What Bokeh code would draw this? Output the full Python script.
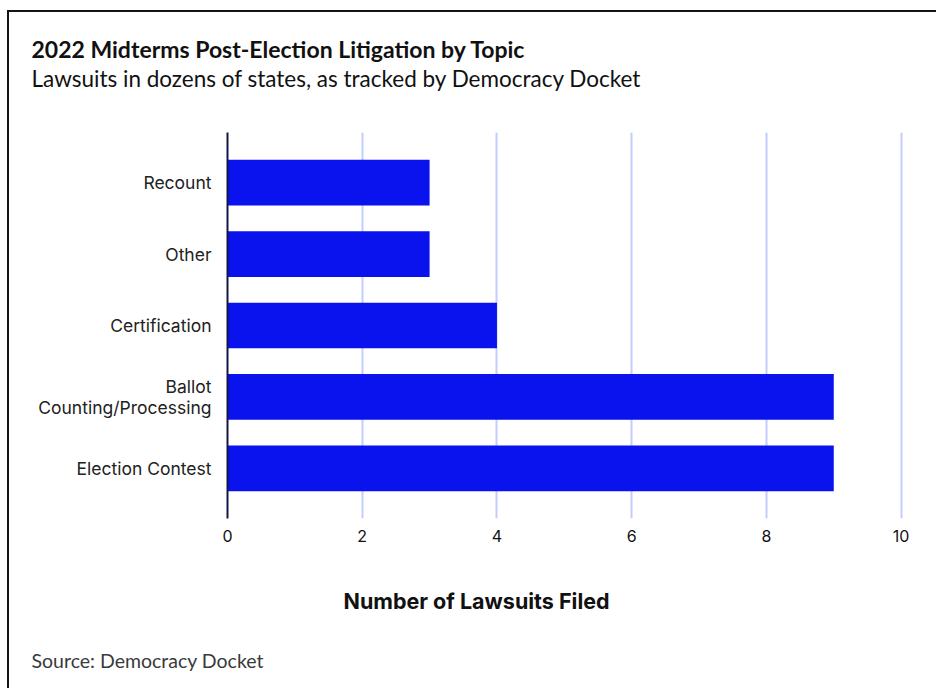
from bokeh.plotting import figure
from bokeh.models import FactorRange, Range1d, Title, FixedTicker
from bokeh.embed import file_html
from bokeh.resources import INLINE

# ---- data ----
categories = ["Election Contest", "Ballot\nCounting/Processing", "Certification", "Other", "Recount"]
lawsuits = [9, 9, 4, 3, 3]
x_ticks = [0, 2, 4, 6, 8, 10]

title_text = "2022 Midterms Post-Election Litigation by Topic"
subtitle_text = "Lawsuits in dozens of states, as tracked by Democracy Docket"
xlabel_text = "Number of Lawsuits Filed"
source_text = "Source: Democracy Docket"

W, H = 936, 688
FRAME_L, FRAME_T, FRAME_R, FRAME_B = 227, 132, 904, 518   # page coords

p = figure(
    width=W, height=H,
    y_range=FactorRange(factors=categories, range_padding=0.2, range_padding_units="absolute"),
    x_range=Range1d(0, 10.05),
    output_backend="svg", toolbar_location=None,
    min_border_left=FRAME_L, min_border_right=W - FRAME_R,
    min_border_top=FRAME_T, min_border_bottom=H - FRAME_B,
)
# page frame line (left and top edges), drawn behind a transparent border fill
p.styles = {"box-shadow": "inset 7px 10px 0px 0px #ffffff, inset 9px 12px 0px 0px #141414"}
p.outline_line_color = None
p.background_fill_color = "white"
p.border_fill_alpha = 0

p.hbar(y=categories, right=lawsuits, left=0, height=0.64,
       fill_color="#0a12ee", line_color=None)

# grid
p.ygrid.grid_line_color = None
p.xgrid.ticker = FixedTicker(ticks=x_ticks)
p.xgrid.grid_line_color = "#c3cdff"
p.xgrid.grid_line_width = 2

# x axis
p.xaxis.ticker = FixedTicker(ticks=x_ticks)
p.xaxis.axis_line_color = None
p.xaxis.major_tick_line_color = None
p.xaxis.minor_tick_line_color = None
p.xaxis.major_label_text_font = "Inter"
p.xaxis.major_label_text_font_size = "16px"
p.xaxis.major_label_text_color = "#111111"
p.xaxis.major_label_standoff = 5

# y axis
p.yaxis.axis_line_color = "#14164a"
p.yaxis.axis_line_width = 2
p.yaxis.major_tick_line_color = None
p.yaxis.minor_tick_line_color = None
p.yaxis.major_label_text_font = "Inter"
p.yaxis.major_label_text_font_size = "17.5px"
p.yaxis.major_label_text_color = "#222222"
p.yaxis.major_label_text_line_height = 0.97
p.yaxis.major_label_standoff = 10
p.yaxis.major_label_text_align = "right"

def spacer(gap):
    # blank white title used only to reserve vertical space
    return Title(text=" ", text_font_size="1px", standoff=gap, text_color="#ffffff")

# above (first added = closest to frame)
p.add_layout(spacer(38), "above")
p.add_layout(Title(text=subtitle_text, align="left", offset=31 - FRAME_L, standoff=0,
                   text_font="Lato", text_font_size="22.5px", text_font_style="normal",
                   text_color="#111111"), "above")
p.add_layout(Title(text=title_text, align="left", offset=31 - FRAME_L, standoff=0,
                   text_font="Lato", text_font_size="23px", text_font_style="bold",
                   text_color="#111111"), "above")

# below: spacer, axis title, then source
p.add_layout(spacer(4.8), "below")
p.add_layout(Title(text=xlabel_text, align="left", offset=343 - FRAME_L, standoff=66,
                   text_font="Inter", text_font_size="21.5px", text_font_style="bold",
                   text_color="#111111"), "below")
p.add_layout(Title(text=source_text, align="left", offset=31 - FRAME_L, standoff=0,
                   text_font="Lato", text_font_size="19.5px", text_font_style="normal",
                   text_color="#3a3a3a"), "below")

open("out.html", "w").write(file_html(p, INLINE))
